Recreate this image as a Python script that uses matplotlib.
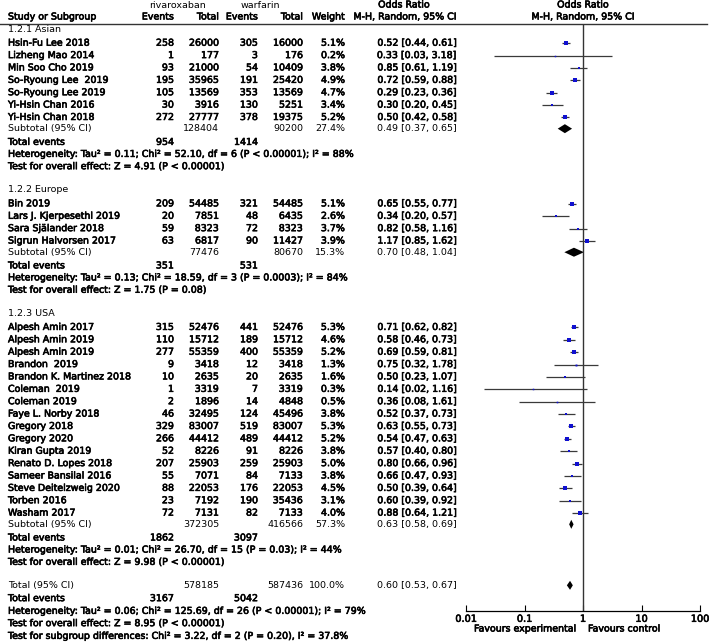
import matplotlib.pyplot as plt
import matplotlib.patheffects as pe
import numpy as np

# ---- data ----
asia_names = ['Hsin-Fu Lee 2018', 'Lizheng Mao 2014', 'Min Soo Cho 2019', 'So-Ryoung Lee  2019',
              'So-Ryoung Lee 2019', 'Yi-Hsin Chan 2016', 'Yi-Hsin Chan 2018']
asia_ev1 = [258, 1, 93, 195, 105, 30, 272]
asia_tot1 = [26000, 177, 21000, 35965, 13569, 3916, 27777]
asia_ev2 = [305, 3, 54, 191, 353, 130, 378]
asia_tot2 = [16000, 176, 10409, 25420, 13569, 5251, 19375]
asia_w = [5.1, 0.2, 3.8, 4.9, 4.7, 3.4, 5.2]
asia_or = [0.52, 0.33, 0.85, 0.72, 0.29, 0.30, 0.50]
asia_lo = [0.44, 0.03, 0.61, 0.59, 0.23, 0.20, 0.42]
asia_hi = [0.61, 3.18, 1.19, 0.88, 0.36, 0.45, 0.58]

eu_names = ['Bin 2019', 'Lars J. Kjerpesethl 2019', 'Sara Själander 2018', 'Sigrun Halvorsen 2017']
eu_ev1 = [209, 20, 59, 63]
eu_tot1 = [54485, 7851, 8323, 6817]
eu_ev2 = [321, 48, 72, 90]
eu_tot2 = [54485, 6435, 8323, 11427]
eu_w = [5.1, 2.6, 3.7, 3.9]
eu_or = [0.65, 0.34, 0.82, 1.17]
eu_lo = [0.55, 0.20, 0.58, 0.85]
eu_hi = [0.77, 0.57, 1.16, 1.62]

usa_names = ['Alpesh Amin 2017', 'Alpesh Amin 2019', 'Alpesh Amin 2019', 'Brandon  2019',
             'Brandon K. Martinez 2018', 'Coleman  2019', 'Coleman 2019', 'Faye L. Norby 2018',
             'Gregory 2018', 'Gregory 2020', 'Kiran Gupta 2019', 'Renato D. Lopes 2018',
             'Sameer Bansilal 2016', 'Steve Deitelzweig 2020', 'Torben 2016', 'Washam 2017']
usa_ev1 = [315, 110, 277, 9, 10, 1, 2, 46, 329, 266, 52, 207, 55, 88, 23, 72]
usa_tot1 = [52476, 15712, 55359, 3418, 2635, 3319, 1896, 32495, 83007, 44412, 8226, 25903, 7071, 22053, 7192, 7131]
usa_ev2 = [441, 189, 400, 12, 20, 7, 14, 124, 519, 489, 91, 259, 84, 176, 190, 82]
usa_tot2 = [52476, 15712, 55359, 3418, 2635, 3319, 4848, 45496, 83007, 44412, 8226, 25903, 7133, 22053, 35436, 7133]
usa_w = [5.3, 4.6, 5.2, 1.3, 1.6, 0.3, 0.5, 3.8, 5.3, 5.2, 3.8, 5.0, 3.8, 4.5, 3.1, 4.0]
usa_or = [0.71, 0.58, 0.69, 0.75, 0.50, 0.14, 0.36, 0.52, 0.63, 0.54, 0.57, 0.80, 0.66, 0.50, 0.60, 0.88]
usa_lo = [0.62, 0.46, 0.59, 0.32, 0.23, 0.02, 0.08, 0.37, 0.55, 0.47, 0.40, 0.66, 0.47, 0.39, 0.39, 0.64]
usa_hi = [0.82, 0.73, 0.81, 1.78, 1.07, 1.16, 1.61, 0.73, 0.73, 0.63, 0.80, 0.96, 0.93, 0.64, 0.92, 1.21]

groups = [
    dict(title='1.2.1 Asian', names=asia_names, ev1=asia_ev1, tot1=asia_tot1, ev2=asia_ev2, tot2=asia_tot2,
         w=asia_w, est=asia_or, lo=asia_lo, hi=asia_hi,
         sub=(128404, 90200, 27.4, 0.49, 0.37, 0.65), events=(954, 1414),
         het='Heterogeneity: Tau² = 0.11; Chi² = 52.10, df = 6 (P < 0.00001); I² = 88%',
         z='Test for overall effect: Z = 4.91 (P < 0.00001)'),
    dict(title='1.2.2 Europe', names=eu_names, ev1=eu_ev1, tot1=eu_tot1, ev2=eu_ev2, tot2=eu_tot2,
         w=eu_w, est=eu_or, lo=eu_lo, hi=eu_hi,
         sub=(77476, 80670, 15.3, 0.70, 0.48, 1.04), events=(351, 531),
         het='Heterogeneity: Tau² = 0.13; Chi² = 18.59, df = 3 (P = 0.0003); I² = 84%',
         z='Test for overall effect: Z = 1.75 (P = 0.08)'),
    dict(title='1.2.3 USA', names=usa_names, ev1=usa_ev1, tot1=usa_tot1, ev2=usa_ev2, tot2=usa_tot2,
         w=usa_w, est=usa_or, lo=usa_lo, hi=usa_hi,
         sub=(372305, 416566, 57.3, 0.63, 0.58, 0.69), events=(1862, 3097),
         het='Heterogeneity: Tau² = 0.01; Chi² = 26.70, df = 15 (P = 0.03); I² = 44%',
         z='Test for overall effect: Z = 9.98 (P < 0.00001)'),
]
overall = (578185, 587436, 100.0, 0.60, 0.53, 0.67)
overall_events = (3167, 5042)
overall_het = 'Heterogeneity: Tau² = 0.06; Chi² = 125.69, df = 26 (P < 0.00001); I² = 79%'
overall_z = 'Test for overall effect: Z = 8.95 (P < 0.00001)'
subgroup_test = 'Test for subgroup differences: Chi² = 3.22, df = 2 (P = 0.20), I² = 37.8%'

# ---- layout (pixel coords) ----
W, H = 709, 642
fig = plt.figure(figsize=(W / 100, H / 100), dpi=100)
ax = fig.add_axes([0, 0, 1, 1])
ax.set_xlim(0, W)
ax.set_ylim(H, 0)
ax.axis('off')

AX_TOP, AX_BOT, AX_L, AX_R = 24, 611, 466, 700
fa = fig.add_axes([AX_L / W, (H - AX_BOT) / H, (AX_R - AX_L) / W, (AX_BOT - AX_TOP) / H])
fa.set_xscale('log')
fa.set_xlim(0.01, 100)
fa.set_ylim(AX_BOT, AX_TOP)
fa.patch.set_alpha(0)
for s in ['left', 'right', 'top']:
    fa.spines[s].set_visible(False)
fa.spines['bottom'].set_linewidth(0.9)
fa.set_yticks([])
fa.set_xticks([0.01, 0.1, 1, 10, 100])
fa.set_xticklabels(['0.01', '0.1', '1', '10', '100'])
fa.minorticks_off()
fa.tick_params(axis='x', direction='in', length=4, width=0.8, pad=2, labelsize=7)

FS = 6.8
heavy = [pe.withStroke(linewidth=0.45, foreground='black')]
for t in fa.get_xticklabels():
    t.set_path_effects(heavy)
fa.axvline(1, color='#333333', lw=1)

X_NAME, X_E1, X_T1, X_E2, X_T2, X_W, X_OR = 8, 174, 219, 258, 303, 345, 457


def txt(x, y, s, ha='left', bold=True):
    t = ax.text(x, y, s, ha=ha, va='center', fontsize=FS)
    if bold:
        t.set_path_effects(heavy)


# header
txt(177, 5, 'rivaroxaban', 'center', bold=False)
txt(260, 5, 'warfarin', 'center', bold=False)
txt(404, 5, 'Odds Ratio', 'center')
txt(583, 5, 'Odds Ratio', 'center')
txt(X_NAME, 17, 'Study or Subgroup')
txt(X_E1, 17, 'Events', 'right')
txt(X_T1, 17, 'Total', 'right')
txt(X_E2, 17, 'Events', 'right')
txt(X_T2, 17, 'Total', 'right')
txt(X_W, 17, 'Weight', 'right')
txt(405, 17, 'M-H, Random, 95% CI', 'center')
txt(583, 17, 'M-H, Random, 95% CI', 'center')
ax.plot([0, 707], [24, 24], color='#333333', lw=1)


def diamond(y, est, lo, hi, h=4.5):
    fa.fill([lo, est, hi, est], [y, y - h, y, y + h], color='black', lw=0)


y = 29
for g in groups:
    txt(X_NAME, y, g['title'], bold=False)
    y += 14.2
    for i, name in enumerate(g['names']):
        txt(X_NAME, y, name)
        txt(X_E1, y, str(g['ev1'][i]), 'right')
        txt(X_T1, y, str(g['tot1'][i]), 'right')
        txt(X_E2, y, str(g['ev2'][i]), 'right')
        txt(X_T2, y, str(g['tot2'][i]), 'right')
        txt(X_W, y, '%.1f%%' % g['w'][i], 'right')
        txt(X_OR, y, '%.2f [%.2f, %.2f]' % (g['est'][i], g['lo'][i], g['hi'][i]), 'right')
        fa.plot([g['lo'][i], g['hi'][i]], [y, y], color='#3a3a3a', lw=0.9, solid_capstyle='butt')
        fa.plot(g['est'][i], y, marker='s', ms=1.0 + 0.3 * g['w'][i], color='#1010d0', mew=0, zorder=3)
        y += 12.38
    y -= 12.38
    y += 11.2
    t1, t2, wt, est, lo, hi = g['sub']
    txt(X_NAME, y, 'Subtotal (95% CI)', bold=False)
    txt(X_T1, y, str(t1), 'right', bold=False)
    txt(X_T2, y, str(t2), 'right', bold=False)
    txt(X_W, y, '%.1f%%' % wt, 'right', bold=False)
    txt(X_OR, y, '%.2f [%.2f, %.2f]' % (est, lo, hi), 'right', bold=False)
    diamond(y, est, lo, hi)
    y += 13.7
    txt(X_NAME, y, 'Total events')
    txt(X_E1, y, str(g['events'][0]), 'right')
    txt(X_E2, y, str(g['events'][1]), 'right')
    y += 12
    txt(X_NAME, y, g['het'])
    y += 12.3
    txt(X_NAME, y, g['z'])
    y += 23

# overall
t1, t2, wt, est, lo, hi = overall
txt(X_NAME, y, 'Total (95% CI)', bold=False)
txt(X_T1, y, str(t1), 'right', bold=False)
txt(X_T2, y, str(t2), 'right', bold=False)
txt(X_W, y, '%.1f%%' % wt, 'right', bold=False)
txt(X_OR, y, '%.2f [%.2f, %.2f]' % (est, lo, hi), 'right', bold=False)
diamond(y, est, lo, hi)
y += 13.3
txt(X_NAME, y, 'Total events')
txt(X_E1, y, str(overall_events[0]), 'right')
txt(X_E2, y, str(overall_events[1]), 'right')
y += 12.7
txt(X_NAME, y, overall_het)
y += 12.3
txt(X_NAME, y, overall_z)
y += 12.7
txt(X_NAME, y, subgroup_test)

txt(577, 629, 'Favours experimental', 'right')
txt(588, 629, 'Favours control', 'left')

fig.savefig('out.png', dpi=100)
